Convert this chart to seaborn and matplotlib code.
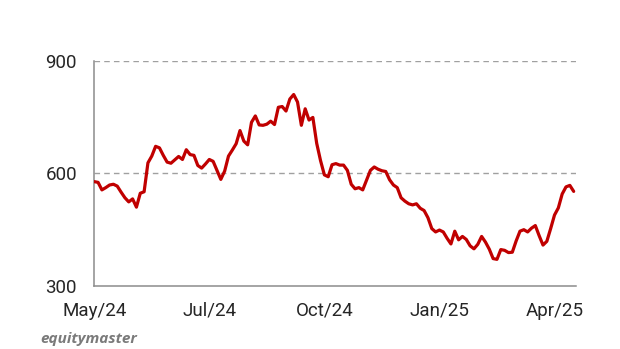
import matplotlib
matplotlib.use("Agg")
import matplotlib.pyplot as plt
import seaborn as sns
import pandas as pd

# Share price values (evenly spaced observations, May/24 - Apr/25)
prices = [
    578, 576, 556, 562, 569, 571, 566, 550, 535, 524,
    532, 510, 547, 551, 628, 646, 672, 668, 648, 630,
    627, 636, 645, 637, 663, 650, 648, 621, 614, 625,
    637, 632, 608, 584, 606, 646, 662, 679, 714, 686,
    676, 736, 753, 729, 728, 731, 739, 730, 776, 778,
    766, 798, 810, 790, 728, 772, 742, 749, 680, 634,
    596, 591, 623, 626, 622, 622, 608, 571, 559, 562,
    556, 582, 608, 617, 611, 607, 605, 583, 569, 562,
    535, 526, 519, 516, 519, 507, 501, 482, 453, 444,
    449, 444, 427, 412, 446, 423, 432, 424, 407, 399,
    411, 432, 417, 398, 373, 371, 397, 395, 389, 390,
    420, 446, 450, 444, 454, 461, 434, 409, 419, 453,
    489, 508, 545, 564, 568, 552,
]
tick_positions = [0, 30, 60, 90, 120]
tick_labels = ["May/24", "Jul/24", "Oct/24", "Jan/25", "Apr/25"]
y_ticks = [300, 600, 900]

df = pd.DataFrame({"idx": list(range(len(prices))), "price": prices})

sns.set_style("white")
plt.rcParams["font.family"] = ["Roboto", "DejaVu Sans"]

fig = plt.figure(figsize=(6.2, 3.49), dpi=100)
ax = fig.add_axes([0.152, 0.1805, 0.777, 0.6455])

for yv in y_ticks[1:]:
    ax.axhline(yv, color="#a0a0a0", linewidth=1.0, linestyle=(0, (4, 3)), zorder=1)

sns.lineplot(data=df, x="idx", y="price", ax=ax, color="#C00000",
             linewidth=2.3, zorder=3)

ax.set_ylim(300, 900)
ax.set_xlim(0, 125.6)
ax.set_yticks(y_ticks)
ax.set_xticks(tick_positions)
ax.set_xticklabels(tick_labels)
ax.set_xlabel("")
ax.set_ylabel("")

for s in ["top", "right"]:
    ax.spines[s].set_visible(False)
for s in ["left", "bottom"]:
    ax.spines[s].set_color("#8c8c8c")
    ax.spines[s].set_linewidth(1.1)

ax.tick_params(axis="both", which="major", length=4.5, width=1.0,
               color="#8c8c8c", labelsize=13.5, labelcolor="#262626")
ax.tick_params(axis="y", pad=8)
ax.tick_params(axis="x", pad=7)

fig.text(0.0645, 0.017, "equitymaster", fontsize=11, fontweight="bold",
         fontstyle="italic", color="#7a7a7a", va="baseline",
         family=["Open Sans", "DejaVu Sans"])

fig.savefig("out.png", dpi=100, facecolor="white")
